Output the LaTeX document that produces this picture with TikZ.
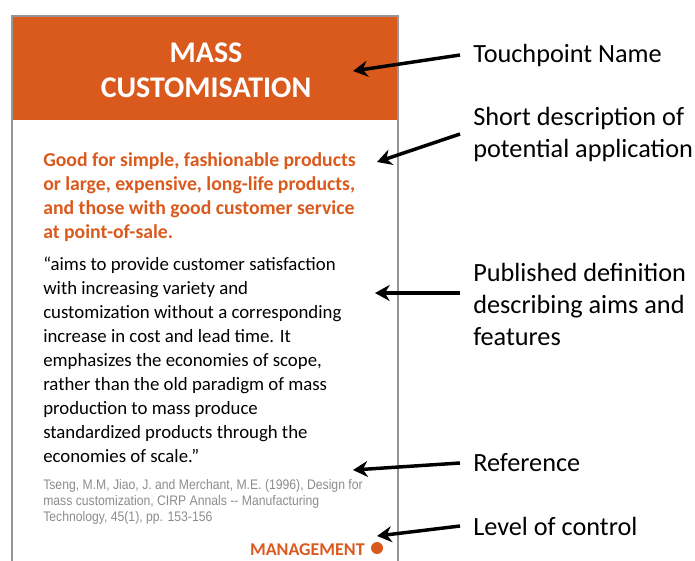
\documentclass[tikz,border=0pt]{standalone}
\usepackage{fontspec}
\setmainfont{Carlito}
\newfontfamily\reffont[FakeStretch=0.88]{Liberation Sans}
\usetikzlibrary{arrows.meta}
\definecolor{cardorange}{RGB}{218,90,30}
\definecolor{refgray}{RGB}{140,140,140}
\definecolor{cardborder}{RGB}{150,150,150}

\begin{document}
\begin{tikzpicture}[x=0.75pt,y=-0.75pt,
  cardtext/.style={anchor=north west,align=left,inner sep=0pt},
  callout/.style={anchor=west,align=left,inner xsep=9.75pt,inner ysep=0pt,font=\fontsize{19.7}{24}\selectfont},
  pointer/.style={-{Stealth[length=11pt,width=12pt]},line width=2.6pt}]
\useasboundingbox (0,0) rectangle (695,560);
% the card
\fill[cardorange] (12,16) rectangle (398,120);
\draw[cardborder,line width=1.1pt] (12,561) -- (12,16) -- (398,16) -- (398,561);
\node[text=white,align=center,inner sep=0pt,font=\bfseries\fontsize{22.5}{26.25}\selectfont] (name) at (206,70) {MASS\\CUSTOMISATION};
\node[cardtext,text=cardorange,font=\bfseries\fontsize{14.8}{18}\selectfont] (appl) at (43,152)
  {Good for simple, fashionable products\\or large, expensive, long-life products,\\and those with good customer service\\at point-of-sale.};
\node[cardtext,font=\fontsize{14.1}{18}\selectfont] (defn) at (43,257)
  {“aims to provide customer satisfaction\\with increasing variety and\\customization without a corresponding\\increase in cost and lead time. It\\emphasizes the economies of scope,\\rather than the old paradigm of mass\\production to mass produce\\standardized products through the\\economies of scale.”};
\node[cardtext,text=refgray,font=\reffont\fontsize{10.4}{12}\selectfont] (ref) at (43,479)
  {Tseng, M.M, Jiao, J. and Merchant, M.E. (1996), Design for\\mass customization, CIRP Annals -- Manufacturing\\Technology, 45(1), pp. 153-156};
\node[anchor=base east,inner sep=0pt,text=cardorange,font=\bfseries\fontsize{13.5}{15}\selectfont] (ctrl) at (365,555) {MANAGEMENT};
\fill[cardorange] (377,548) circle[radius=4.5pt];

% callouts
\node[callout] (touch) at (460,55) {Touchpoint Name};
\node[callout] (short) at (460,134) {Short description of\\potential application};
\node[callout] (pub) at (460,304) {Published definition\\describing aims and\\features};
\node[callout] (refl) at (460,463) {Reference};
\node[callout] (level) at (460,526) {Level of control};

\coordinate (nameTip) at (353,71);
\coordinate (applTip) at (377,162);
\coordinate (defnTip) at (375,293);
\coordinate (refTip) at (353,470);
\coordinate (ctrlTip) at (377,536);

\draw[pointer] (touch.west) -- (nameTip);
\draw[pointer] (short.west) -- (applTip);
\draw[pointer] (pub.west |- defnTip) -- (defnTip);
\draw[pointer] (refl.west) -- (refTip);
\draw[pointer] (level.west) -- (ctrlTip);
\end{tikzpicture}
\end{document}
